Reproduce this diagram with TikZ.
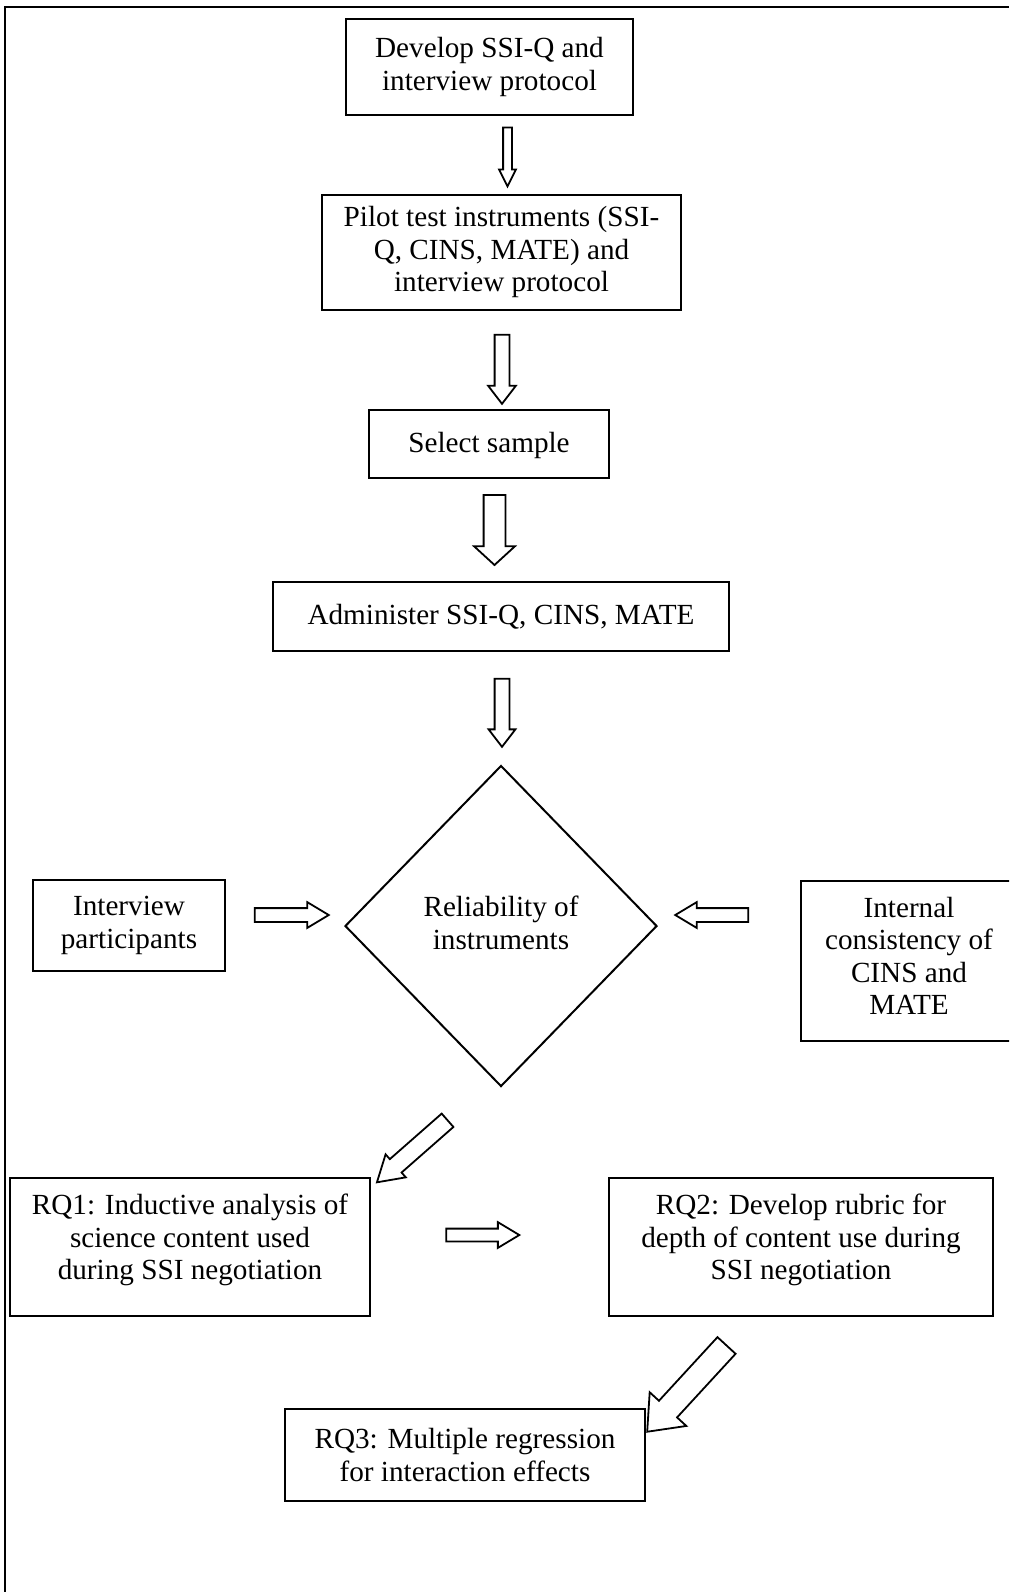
\documentclass[tikz,border=0pt]{standalone}
\usepackage{fontspec}
\setmainfont{Liberation Serif}
\usetikzlibrary{shapes.geometric,shapes.arrows}

\begin{document}
\begin{tikzpicture}[x=0.5pt, y=-0.5pt,
    every node/.style={font=\fontsize{14.6}{16.25}\selectfont},
    box/.style={draw, line width=1pt, align=center, inner sep=0pt},
    decision/.style={diamond, draw, line width=1pt, align=center, inner sep=0pt},
    blockarrow/.style n args={4}{single arrow, draw, line width=0.9pt,
        minimum width=0pt, minimum height=#1, inner xsep=0pt, inner ysep=#2,
        single arrow head extend=#3, single arrow tip angle=#4,
        single arrow head indent=0pt}]
    \useasboundingbox (0,0) rectangle (1009,1592);
    \clip (0,0) rectangle (1009,1592);

    % outer frame (top and left only)
    \draw[line width=1.25pt] (5,1592) -- (5,7) -- (1009,7);

    % main column
    \node[box, minimum width=143.5pt, minimum height=48pt] (develop) at (489.5,67)
        {Develop SSI-Q and\\interview protocol};
    \node[box, minimum width=179.5pt, minimum height=57.5pt] (pilot) at (501.5,252)
        {Pilot test instruments (SSI-\\Q, CINS, MATE) and\\interview protocol};
    \node[box, minimum width=120pt, minimum height=34pt] (sample) at (489,444)
        {Select sample\\[-14.5pt]};
    \node[box, minimum width=228pt, minimum height=34.5pt] (administer) at (501,616.5)
        {Administer SSI-Q, CINS, MATE\\[-14.5pt]};
    \node[decision, minimum width=156pt, minimum height=160.5pt] (reliability) at (501,926)
        {Reliability of\\instruments\\[-13pt]};

    % side inputs
    \node[box, minimum width=96pt, minimum height=45.5pt] (interview) at (129,925.5)
        {Interview\\participants};
    \node[box, minimum width=108pt, minimum height=80pt] (internal) at (909,961)
        {Internal\\consistency of\\CINS and\\MATE\\[-11.25pt]};

    % research questions
    \node[box, minimum width=180pt, minimum height=69pt] (rqone) at (190,1247)
        {RQ1: Inductive analysis of\\science content used\\during SSI negotiation\\[-6.25pt]};
    \node[box, minimum width=192pt, minimum height=69pt] (rqtwo) at (801,1247)
        {RQ2: Develop rubric for\\depth of content use during\\SSI negotiation\\[-6.25pt]};
    \node[box, minimum width=180pt, minimum height=46pt] (rqthree) at (465,1455)
        {RQ3: Multiple regression\\for interaction effects};

    % block arrows
    \node[blockarrow={29.5pt}{1.75pt}{2pt}{53}, rotate=-90] (arrowone) at (507.5,152.5) {};
    \node[blockarrow={34.5pt}{3.25pt}{3.25pt}{75}, rotate=-90] (arrowtwo) at (502,364.5) {};
    \node[blockarrow={35pt}{5pt}{4.75pt}{95}, rotate=-90] (arrowthree) at (494.5,525) {};
    \node[blockarrow={34pt}{3.25pt}{3pt}{75}, rotate=-90] (arrowfour) at (502,708) {};
    \node[blockarrow={37pt}{3pt}{3pt}{62}] (arrowleft) at (286,915) {};
    \node[blockarrow={36.5pt}{3pt}{3pt}{62}, rotate=180] (arrowright) at (717.5,915) {};
    \node[blockarrow={47pt}{4pt}{3.2pt}{63}, rotate=221.3] (arrowdiagone) at (417.7,1146.5) {};
    \node[blockarrow={36.5pt}{2.75pt}{3.25pt}{62}] (arrowmid) at (477.5,1235) {};
    \node[blockarrow={58.6pt}{5.7pt}{6.3pt}{78}, rotate=227.4] (arrowdiagtwo) at (692,1383) {};
\end{tikzpicture}
\end{document}
